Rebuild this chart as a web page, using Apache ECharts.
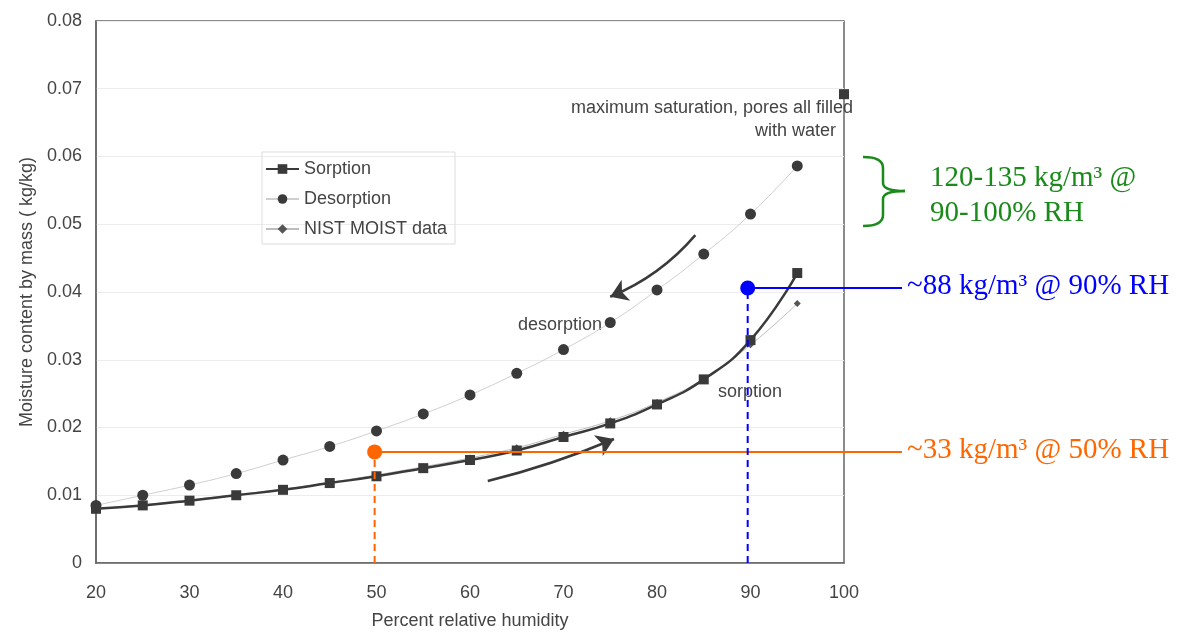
<!DOCTYPE html>
<html>
<head>
<meta charset="utf-8">
<script src="https://cdn.jsdelivr.net/npm/echarts@6/dist/echarts.min.js"></script>
<style>
html, body { margin: 0; padding: 0; background: #fff; }
#chart { width: 1178px; height: 635px; }
</style>
</head>
<body>
<div id="chart"></div>
<script>
// percent relative humidity
const rh = [20, 25, 30, 35, 40, 45, 50, 55, 60, 65, 70, 75, 80, 85, 90, 95];
// moisture content by mass (kg/kg)
const sorption   = [0.0080, 0.0085, 0.0092, 0.0100, 0.0108, 0.0118, 0.0128, 0.0140, 0.0152, 0.0166, 0.0186, 0.0206, 0.0234, 0.0271, 0.0329, 0.0428];
const desorption = [0.0085, 0.0100, 0.0115, 0.0132, 0.0152, 0.0172, 0.0195, 0.0220, 0.0248, 0.0280, 0.0315, 0.0355, 0.0403, 0.0456, 0.0515, 0.0586];
const nist       = [0.0080, 0.0086, 0.0093, 0.0101, 0.0109, 0.0119, 0.0130, 0.0142, 0.0155, 0.0170, 0.0190, 0.0210, 0.0237, 0.0272, 0.0322, 0.0383];
const maxSaturation = [100, 0.0692];

// highlighted readings
const point50 = [49.8, 0.0164];
const point90 = [89.7, 0.0406];

// direction arrows [from, to]
const desorptionArrow = [[84.1, 0.0484], [75.0, 0.0393]];
const sorptionArrow = [[61.9, 0.0121], [75.4, 0.0183]];

const pair = (xs, ys) => xs.map((x, i) => [x, ys[i]]);

const ink = '#3a3a3a';
const txt = '#444';
const green = '#1a8a1a';
const orange = '#ff6600';
const blue = '#0000ff';
const sans = 'Liberation Sans, Arial, sans-serif';
const serif = 'Liberation Serif, Times New Roman, serif';

// curly brace pieces (pixels)
const braceStyle = { stroke: green, lineWidth: 2.5, fill: null };
const brace = [
  { type: 'bezierCurve', shape: { x1: 863, y1: 157, cpx1: 883, cpy1: 157, x2: 883, y2: 168 }, style: braceStyle },
  { type: 'line', shape: { x1: 883, y1: 168, x2: 883, y2: 183 }, style: braceStyle },
  { type: 'bezierCurve', shape: { x1: 883, y1: 183, cpx1: 883, cpy1: 191, x2: 905, y2: 191 }, style: braceStyle },
  { type: 'bezierCurve', shape: { x1: 905, y1: 191, cpx1: 883, cpy1: 191, x2: 883, y2: 199 }, style: braceStyle },
  { type: 'line', shape: { x1: 883, y1: 199, x2: 883, y2: 215 }, style: braceStyle },
  { type: 'bezierCurve', shape: { x1: 883, y1: 215, cpx1: 883, cpy1: 226, x2: 863, y2: 226 }, style: braceStyle }
];

const myChart = echarts.init(document.getElementById('chart'));
myChart.setOption({
  backgroundColor: '#fff',
  animation: false,
  textStyle: { fontFamily: sans },
  grid: {
    left: 96, right: 334, top: 21, bottom: 72,
    show: true, borderColor: '#666', borderWidth: 1.5
  },
  legend: {
    data: ['Sorption', 'Desorption', 'NIST MOIST data'],
    orient: 'vertical',
    left: 262, top: 152,
    itemWidth: 33, itemHeight: 12, itemGap: 12,
    padding: [8, 8, 6, 3],
    borderColor: '#ddd', borderWidth: 1,
    textStyle: { color: txt, fontSize: 18, fontFamily: sans }
  },
  xAxis: {
    type: 'value', min: 20, max: 100, interval: 10,
    name: 'Percent relative humidity', nameLocation: 'middle', nameGap: 49,
    nameTextStyle: { color: txt, fontSize: 18 },
    axisLine: { lineStyle: { color: '#666', width: 1.5 } },
    axisTick: { show: false },
    axisLabel: { color: txt, fontSize: 18, margin: 21 },
    splitLine: { show: false }
  },
  yAxis: {
    type: 'value', min: 0, max: 0.08, interval: 0.01,
    name: 'Moisture content by mass ( kg/kg)', nameLocation: 'middle', nameGap: 55,
    nameTextStyle: { color: txt, fontSize: 18 },
    axisLine: { show: true, lineStyle: { color: '#666', width: 1.5 } },
    axisTick: { show: false },
    axisLabel: {
      color: txt, fontSize: 18, margin: 14,
      formatter: v => (v === 0 ? '0' : v.toFixed(2))
    },
    splitLine: { show: true, lineStyle: { color: '#ececec', width: 1 } }
  },
  series: [
    {
      name: 'Desorption', type: 'line', smooth: true,
      data: pair(rh, desorption),
      symbol: 'circle', symbolSize: 11,
      itemStyle: { color: ink },
      lineStyle: { color: '#cfcfcf', width: 1 },
      z: 3
    },
    {
      name: 'NIST MOIST data', type: 'line', smooth: true,
      data: pair(rh, nist),
      symbol: 'diamond', symbolSize: 7,
      itemStyle: { color: '#555' },
      lineStyle: { color: '#bdbdbd', width: 1 },
      z: 3
    },
    {
      name: 'Sorption', type: 'line', smooth: true,
      data: pair(rh, sorption),
      symbol: 'rect', symbolSize: 10,
      itemStyle: { color: ink },
      lineStyle: { color: ink, width: 2.5 },
      z: 4
    },
    {
      name: 'max', type: 'scatter',
      data: [maxSaturation],
      symbol: 'rect', symbolSize: 10,
      itemStyle: { color: ink, opacity: 1 }
    },
    {
      name: 'arrows', type: 'lines', coordinateSystem: 'cartesian2d',
      symbol: ['none', 'arrow'], symbolSize: 17,
      lineStyle: { color: ink, width: 2.5, opacity: 1 },
      data: [
        { coords: desorptionArrow, lineStyle: { curveness: 0.12 } },
        { coords: sorptionArrow, lineStyle: { curveness: -0.04 } }
      ],
      z: 2
    },
    // orange reading at 50% RH
    {
      name: 'drop50', type: 'line', symbol: 'none',
      data: [[point50[0], 0], point50],
      lineStyle: { color: orange, width: 2, type: [7, 5] }, z: 6
    },
    {
      name: 'dot50', type: 'scatter', data: [point50],
      symbolSize: 15, itemStyle: { color: orange, opacity: 1 }, z: 7
    },
    // blue reading at 90% RH
    {
      name: 'drop90', type: 'line', symbol: 'none',
      data: [[point90[0], 0], point90],
      lineStyle: { color: blue, width: 2, type: [7, 5] }, z: 6
    },
    {
      name: 'dot90', type: 'scatter', data: [point90],
      symbolSize: 15, itemStyle: { color: blue, opacity: 1 }, z: 7
    }
  ]
});

// leader lines run from the readings out to the notes on the right
const p50 = myChart.convertToPixel({ gridIndex: 0 }, point50);
const p90 = myChart.convertToPixel({ gridIndex: 0 }, point90);
const leaderEnd = 902;

myChart.setOption({
  graphic: brace.concat([
    {
      type: 'line', z: 5,
      shape: { x1: p50[0], y1: p50[1], x2: leaderEnd, y2: p50[1] },
      style: { stroke: orange, lineWidth: 2 }
    },
    {
      type: 'line', z: 5,
      shape: { x1: p90[0], y1: p90[1], x2: leaderEnd, y2: p90[1] },
      style: { stroke: blue, lineWidth: 2 }
    },
    {
      type: 'text', right: 1178 - 853, top: 99,
      style: { text: 'maximum saturation, pores all filled', fill: txt, font: '18px ' + sans }
    },
    {
      type: 'text', right: 1178 - 836, top: 122,
      style: { text: 'with water', fill: txt, font: '18px ' + sans }
    },
    {
      type: 'text', left: 518, top: 316,
      style: { text: 'desorption', fill: txt, font: '18px ' + sans }
    },
    {
      type: 'text', left: 718, top: 383,
      style: { text: 'sorption', fill: txt, font: '18px ' + sans }
    },
    {
      type: 'text', left: 930, top: 161,
      style: { text: '120-135 kg/m³ @\n90-100% RH', fill: green, font: '29px ' + serif, lineHeight: 35 }
    },
    {
      type: 'text', left: 907, top: p90[1] - 16,
      style: { text: '~88 kg/m³ @ 90% RH', fill: blue, font: '29px ' + serif }
    },
    {
      type: 'text', left: 907, top: p50[1] - 16,
      style: { text: '~33 kg/m³ @ 50% RH', fill: orange, font: '29px ' + serif }
    }
  ])
});
window.addEventListener('resize', function () {
  myChart.resize();
});
</script>
</body>
</html>
